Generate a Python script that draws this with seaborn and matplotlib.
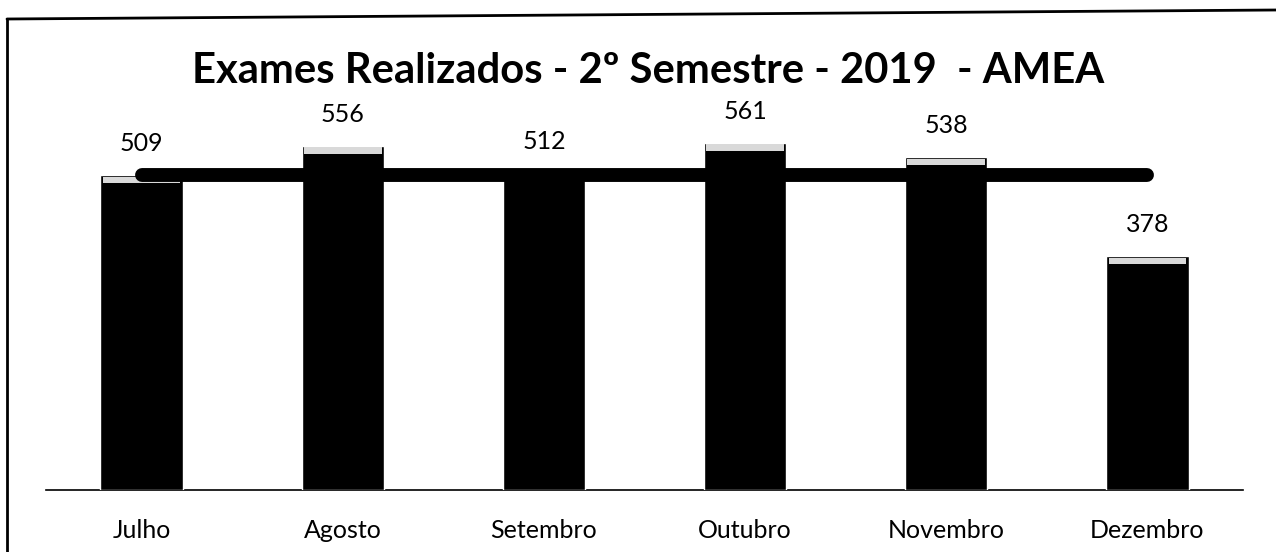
import numpy as np
import pandas as pd
import matplotlib
matplotlib.use("Agg")
import matplotlib.pyplot as plt
from matplotlib.patches import Rectangle
from matplotlib.lines import Line2D
import seaborn as sns

MONTHS = ["Julho", "Agosto", "Setembro", "Outubro", "Novembro", "Dezembro"]
EXAMS = [509, 556, 512, 561, 538, 378]
TITLE = "Exames Realizados - 2º Semestre - 2019  - AMEA"

sns.set_style("white")
plt.rcParams["font.family"] = ["Lato", "DejaVu Sans"]
plt.rcParams["text.color"] = "black"
plt.rcParams["xtick.color"] = "black"
plt.rcParams["xtick.labelcolor"] = "black"

df = pd.DataFrame({"mes": MONTHS, "exames": EXAMS})
avg = np.mean(EXAMS)

fig = plt.figure(figsize=(12.76, 5.52), dpi=100)
ax = fig.add_axes([46 / 1276, 62 / 552, 1197 / 1276, 371 / 552])

sns.barplot(data=df, x="mes", y="exames", color="black", width=0.41,
            saturation=1, ax=ax, zorder=2)
ax.set_ylim(0, 600)

# light cap on top of each bar (3d look of the original)
cap = 12
for p in ax.patches:
    x0, w, h = p.get_x(), p.get_width(), p.get_height()
    ax.add_patch(Rectangle((x0 + w * 0.03, h - cap), w * 0.94, cap - 2,
                           color="#d9d9d9", zorder=3, lw=0))

# average line
ax.plot(range(len(MONTHS)), [avg] * len(MONTHS), color="black", lw=10,
        solid_capstyle="round", zorder=4)

for i, v in enumerate(EXAMS):
    ax.text(i, v + 51, str(v), ha="center", va="center", fontsize=18,
            color="black")

ax.set_xlabel("")
ax.set_ylabel("")
ax.set_yticks([])
ax.tick_params(axis="x", length=0, labelsize=18, pad=21, labelcolor="black")
for s in ["top", "right", "left"]:
    ax.spines[s].set_visible(False)
ax.spines["bottom"].set_color("black")
ax.spines["bottom"].set_linewidth(1.2)
ax.spines["bottom"].set_zorder(1)

t = fig.text(648 / 1276, 1 - 83 / 552, TITLE, ha="center", va="baseline",
             fontsize=28, fontweight="bold", color="black")
fig.canvas.draw()
wpx = t.get_window_extent().width
t.set_fontsize(28 * 913 / wpx)

# frame of the scanned page
fig.add_artist(Line2D([7 / 1276, 1.0], [1 - 19 / 552, 1 - 10 / 552],
                      transform=fig.transFigure, color="black", lw=2))
fig.add_artist(Line2D([7 / 1276, 7 / 1276], [0, 1 - 19 / 552],
                      transform=fig.transFigure, color="black", lw=2))

fig.savefig("out.png", dpi=100)
